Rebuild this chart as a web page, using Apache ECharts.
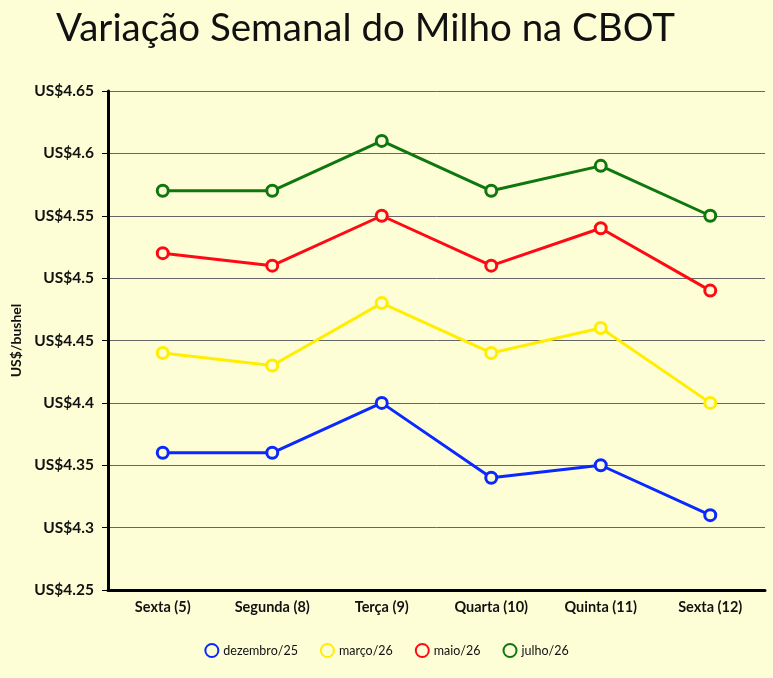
<!DOCTYPE html>
<html><head><meta charset="utf-8">
<script src="https://cdn.jsdelivr.net/npm/echarts@6/dist/echarts.min.js"></script>
<style>html,body{margin:0;padding:0;background:#fefed6;}#c{width:773px;height:678px;}</style>
</head><body><div id="c"></div>
<script>
const categories = ['Sexta (5)', 'Segunda (8)', 'Terça (9)', 'Quarta (10)', 'Quinta (11)', 'Sexta (12)'];
const seriesNames = ['dezembro/25', 'março/26', 'maio/26', 'julho/26'];
const dezembro25 = [4.36, 4.36, 4.40, 4.34, 4.35, 4.31];
const marco26 = [4.44, 4.43, 4.48, 4.44, 4.46, 4.40];
const maio26 = [4.52, 4.51, 4.55, 4.51, 4.54, 4.49];
const julho26 = [4.57, 4.57, 4.61, 4.57, 4.59, 4.55];
const colors = ['#0a28ff', '#ffee00', '#ff0a14', '#0e770e'];
const values = [dezembro25, marco26, maio26, julho26];
const FONT = 'Lato, "Open Sans", sans-serif';
const chart = echarts.init(document.getElementById('c'));
chart.setOption({
  backgroundColor: '#fefed6',
  animation: false,
  title: { text: 'Variação Semanal do Milho na CBOT', left: 51, top: 4,
    textStyle: { fontFamily: FONT, fontSize: 38.5, fontWeight: 'normal', color: '#111' } },
  grid: { left: 108, right: 8, top: 91, bottom: 88, containLabel: false },
  legend: { top: 638, left: 'center', icon: 'circle', itemWidth: 13, itemHeight: 13, itemGap: 22,
    textStyle: { fontFamily: FONT, fontSize: 12.5, color: '#111' }, data: seriesNames },
  xAxis: { type: 'category', data: categories, boundaryGap: true,
    axisLine: { lineStyle: { color: '#000', width: 3 } },
    axisTick: { alignWithLabel: true, length: 6, lineStyle: { color: '#000' } },
    axisLabel: { fontFamily: FONT, fontSize: 14.5, fontWeight: 'bold', color: '#111', margin: 10 } },
  yAxis: { type: 'value', min: 4.25, max: 4.65, interval: 0.05,
    name: 'US$/bushel', nameLocation: 'middle', nameGap: 82, nameRotate: 90,
    nameTextStyle: { fontFamily: FONT, fontSize: 14, fontWeight: 'bold', color: '#111' },
    axisLine: { show: true, lineStyle: { color: '#000', width: 3 } },
    axisTick: { show: true, length: 6, lineStyle: { color: '#000' } },
    splitLine: { lineStyle: { color: '#666', width: 1 } },
    axisLabel: { fontFamily: FONT, fontSize: 15.5, fontWeight: 'bold', color: '#111', margin: 14,
      formatter: v => 'US$' + (+v.toFixed(2)).toString() } },
  series: seriesNames.map((n, i) => ({
    name: n, type: 'line', data: values[i], color: colors[i],
    symbol: 'circle', symbolSize: 11, showSymbol: true,
    lineStyle: { width: 3, color: colors[i] },
    itemStyle: { color: '#fefed6', borderColor: colors[i], borderWidth: 3 }
  }))
});
</script></body></html>
